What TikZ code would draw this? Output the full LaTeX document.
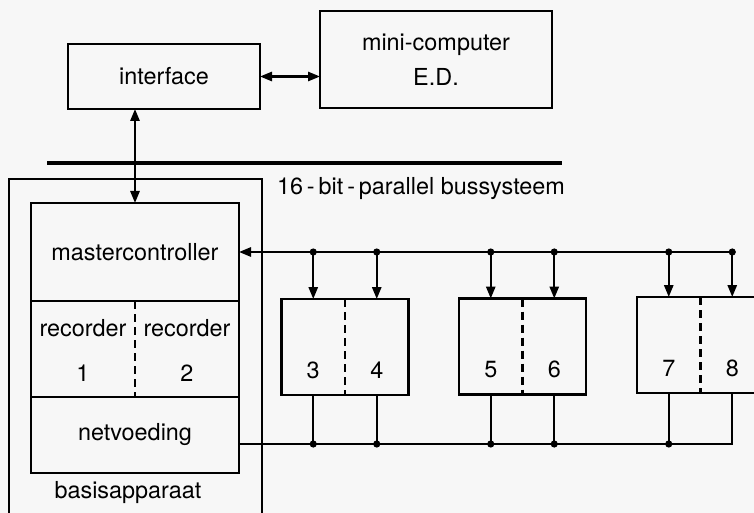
\documentclass[tikz,border=0pt]{standalone}
\usepackage{fontspec}
\setmainfont{TeX Gyre Heros}
\usetikzlibrary{arrows.meta,positioning,calc}
\begin{document}
\begin{tikzpicture}[x=0.5pt, y=-0.5pt,
  every node/.style={font=\fontsize{11.7}{14}\selectfont},
  box/.style={draw, line width=1.1pt, inner sep=0pt, outer sep=0pt},
  arr/.style={-{Triangle[length=6pt,width=4.6pt]}, line width=1.1pt},
  dbl/.style={{Triangle[length=6pt,width=4.6pt]}-{Triangle[length=6pt,width=4.6pt]}, line width=1.1pt},
  wire/.style={line width=1.1pt},
  split/.style={dash pattern=on 4pt off 2.5pt, line width=1.1pt},
  dot/.style={circle, fill, inner sep=0pt, minimum size=3.6pt}]
\useasboundingbox[fill=black!3] (0,0) rectangle (754,513);
\clip (0,0) rectangle (754,513);
\node[box, minimum width=96pt, minimum height=32.5pt] (iface) at (164,76.5) {interface};
\node[box, minimum width=116pt, minimum height=48.5pt, align=center] (mini) at (436,59.5) {mini-computer\\[3.5pt]E.D.};
\coordinate (busL) at (47,163);
\coordinate (busR) at (562,163);
\draw[line width=2.4pt] (busL) -- (busR);
\node (buslbl) at (421,189) {16\,-\,bit\,-\,parallel bussysteem};
\node[box, minimum width=126.5pt, minimum height=175.5pt] (basis) at (135.5,354.5) {};
\node[box, minimum width=104pt, minimum height=49pt] (master) at (135,252) {mastercontroller};
\node[box, minimum width=104pt, minimum height=48pt] (rec) at (135,349) {};
\node[box, minimum width=104pt, minimum height=38pt] (net) at (135,435) {netvoeding};
\node (basislbl) at (128,493) {basisapparaat};
\draw[split] (rec.north) -- (rec.south);
\node[align=center] (rec1) at (83,350) {recorder\\[8.5pt]1};
\node[align=center] (rec2) at (187,350) {recorder\\[8.5pt]2};
\draw[dbl] (iface.east) -- (iface.east -| mini.west);
\draw[dbl] (master.north |- iface.south) -- (master.north);
\node[box, minimum width=63.5pt, minimum height=48pt] (b34) at (345,347) {};
\node[box, minimum width=63.5pt, minimum height=48pt] (b56) at (522.5,346.5) {};
\node[box, minimum width=63.5pt, minimum height=48pt] (b78) at (700.5,345) {};
\foreach \b/\l/\r in {b34/3/4,b56/5/6,b78/7/8}{
  \draw[split] (\b.north) -- (\b.south);
  \coordinate (in\l) at ($(\b.north west)!.25!(\b.north east)$);
  \coordinate (in\r) at ($(\b.north west)!.75!(\b.north east)$);
  \coordinate (out\l) at ($(\b.south west)!.25!(\b.south east)$);
  \coordinate (out\r) at ($(\b.south west)!.75!(\b.south east)$);
  \node (num\l) at ($(in\l |- \b.center)+(0,23)$) {\l};
  \node (num\r) at ($(in\r |- \b.center)+(0,23)$) {\r};
}
\draw[arr] (in8 |- master.east) -- (master.east);
\foreach \n in {3,...,8}{
  \draw[arr] (in\n |- master.east) -- (in\n);
  \node[dot] (tap\n) at (in\n |- master.east) {};
}
\coordinate (pw) at ($(net.east)+(0,9)$);
\draw[wire] (pw) -| (out8);
\foreach \n in {3,...,7}{
  \draw[wire] (out\n) -- (out\n |- pw);
  \node[dot] (sup\n) at (out\n |- pw) {};
}
\end{tikzpicture}
\end{document}
